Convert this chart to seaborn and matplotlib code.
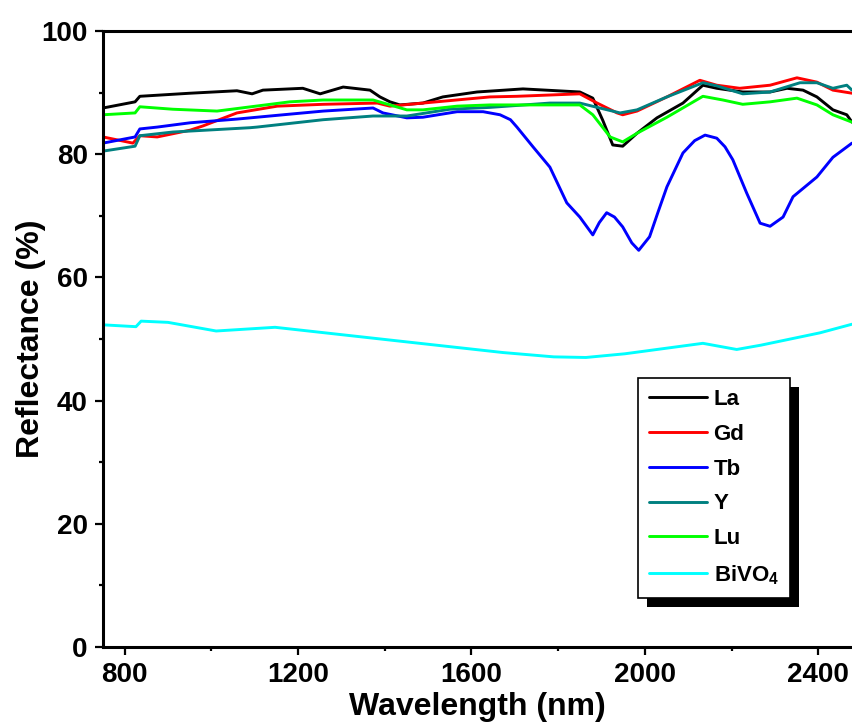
import matplotlib
matplotlib.use("Agg")
import matplotlib.pyplot as plt
from matplotlib.ticker import MultipleLocator
from matplotlib.patches import Rectangle
import pandas as pd
import seaborn as sns

# ------------------------------
# Data (nm, reflectance %)
# ------------------------------
la_nm = [750, 824, 835, 951, 1059, 1094, 1119, 1211, 1251, 1304, 1366, 1389, 1412, 1435, 1488,
         1534, 1613, 1719, 1850, 1880, 1903, 1926, 1949, 1982, 2028, 2088, 2134, 2166, 2226,
         2289, 2328, 2365, 2397, 2434, 2466, 2478]
la_r = [87.5, 88.5, 89.4, 89.9, 90.3, 89.8, 90.4, 90.7, 89.8, 90.9, 90.4, 89.3, 88.5, 88.0, 88.3,
        89.3, 90.1, 90.6, 90.1, 89.1, 85.5, 81.5, 81.3, 83.4, 85.9, 88.3, 91.2, 90.7, 90.1,
        90.1, 90.7, 90.4, 89.3, 87.2, 86.4, 85.2]

gd_nm = [750, 819, 835, 875, 951, 981, 1059, 1152, 1258, 1383, 1412, 1488, 1643, 1705, 1850,
         1890, 1936, 1949, 1982, 2051, 2127, 2166, 2219, 2289, 2351, 2397, 2434, 2478]
gd_r = [82.8, 81.8, 83.0, 82.8, 83.9, 84.6, 86.7, 87.8, 88.1, 88.3, 87.8, 88.3, 89.3, 89.4, 89.8,
        88.3, 86.7, 86.4, 87.0, 89.3, 92.0, 91.2, 90.7, 91.2, 92.4, 91.7, 90.4, 89.9]

tb_nm = [750, 824, 835, 875, 951, 1059, 1181, 1258, 1373, 1396, 1451, 1488, 1567, 1627, 1666,
         1690, 1705, 1742, 1781, 1820, 1850, 1880, 1895, 1912, 1930, 1949, 1970, 1986, 2011,
         2030, 2051, 2088, 2115, 2139, 2166, 2185, 2203, 2235, 2266, 2289, 2319, 2342, 2397,
         2434, 2478]
tb_r = [81.8, 82.8, 84.1, 84.4, 85.1, 85.7, 86.5, 87.0, 87.5, 86.7, 85.9, 86.0, 86.9, 86.9, 86.4,
        85.6, 84.4, 81.2, 77.9, 72.1, 69.8, 66.9, 68.9, 70.5, 69.8, 68.2, 65.6, 64.4, 66.6,
        70.5, 74.7, 80.2, 82.2, 83.1, 82.6, 81.2, 79.1, 73.7, 68.8, 68.3, 69.8, 73.1, 76.3,
        79.5, 81.8]

y_nm = [750, 824, 835, 911, 1089, 1105, 1258, 1373, 1451, 1550, 1643, 1781, 1850, 1896, 1943,
        1982, 2051, 2134, 2166, 2226, 2289, 2358, 2397, 2434, 2466, 2478]
y_r = [80.5, 81.3, 83.0, 83.6, 84.3, 84.4, 85.6, 86.2, 86.2, 87.3, 87.6, 88.3, 88.3, 87.5, 86.7,
       87.2, 89.3, 91.6, 91.1, 89.8, 90.1, 91.6, 91.6, 90.7, 91.2, 90.4]

lu_nm = [750, 824, 835, 911, 1013, 1181, 1258, 1373, 1412, 1451, 1488, 1567, 1643, 1850, 1880,
         1920, 1949, 1982, 2051, 2134, 2180, 2226, 2289, 2351, 2397, 2434, 2478]
lu_r = [86.4, 86.7, 87.7, 87.3, 87.0, 88.5, 88.8, 88.8, 88.0, 87.2, 87.2, 87.8, 88.0, 88.0, 86.4,
        82.8, 82.0, 83.4, 86.0, 89.4, 88.8, 88.1, 88.5, 89.1, 88.0, 86.4, 85.2]

bv_nm = [750, 826, 838, 900, 1011, 1147, 1416, 1673, 1790, 1864, 1954, 2134, 2212, 2268, 2404, 2478]
bv_r = [52.3, 52.0, 52.9, 52.7, 51.3, 51.9, 49.8, 47.8, 47.1, 47.0, 47.6, 49.3, 48.3, 49.0, 51.0, 52.4]

samples = ["La", "Gd", "Tb", "Y", "Lu", "BiVO$_4$"]
colors = ["#000000", "#ff0000", "#0000ff", "#008080", "#00ff00", "#00ffff"]

frames = []
for name, nm, r in zip(samples, [la_nm, gd_nm, tb_nm, y_nm, lu_nm, bv_nm],
                       [la_r, gd_r, tb_r, y_r, lu_r, bv_r]):
    frames.append(pd.DataFrame({"nm": nm, "R": r, "sample": name}))
df = pd.concat(frames, ignore_index=True)

# ------------------------------
# Style
# ------------------------------
sns.set_theme(style="ticks")
plt.rcParams["font.family"] = ["Liberation Sans", "DejaVu Sans"]
plt.rcParams["font.weight"] = "bold"
plt.rcParams["text.color"] = "black"
plt.rcParams["axes.labelcolor"] = "black"
plt.rcParams["xtick.color"] = "black"
plt.rcParams["ytick.color"] = "black"
plt.rcParams["mathtext.fontset"] = "custom"
plt.rcParams["mathtext.rm"] = "Liberation Sans:bold"
plt.rcParams["mathtext.it"] = "Liberation Sans:bold"
plt.rcParams["mathtext.bf"] = "Liberation Sans:bold"

fig = plt.figure(figsize=(8.52, 7.26), dpi=100)
ax = fig.add_axes([103 / 852, 79 / 726, 749 / 852, 616 / 726])

sns.lineplot(data=df, x="nm", y="R", hue="sample", hue_order=samples,
             palette=dict(zip(samples, colors)), estimator=None, sort=False,
             linewidth=2.1, ax=ax, legend=False)

ax.set_xlim(750, 2478)
ax.set_ylim(0, 100)
ax.xaxis.set_major_locator(MultipleLocator(400))
ax.xaxis.set_minor_locator(MultipleLocator(200))
ax.yaxis.set_major_locator(MultipleLocator(20))
ax.yaxis.set_minor_locator(MultipleLocator(10))

ax.spines["right"].set_visible(False)
for side in ["left", "bottom", "top"]:
    ax.spines[side].set_linewidth(2.2)
    ax.spines[side].set_color("black")

ax.tick_params(which="major", direction="out", length=6, width=1.6, labelsize=20,
               pad=5, colors="black", top=False, right=False)
ax.tick_params(which="minor", direction="out", length=3, width=1.6, top=False, right=False)

ax.set_xlabel("Wavelength (nm)", fontsize=23, fontweight="bold", labelpad=3)
ax.set_ylabel("Reflectance (%)", fontsize=23, fontweight="bold", labelpad=-3)

# --- legend with a solid black drop shadow ---
leg = ax.legend(ax.lines[:6], samples, loc="upper left",
                bbox_to_anchor=(638 / 852, 1 - 378 / 726), bbox_transform=fig.transFigure,
                frameon=True, fancybox=False, edgecolor="black", framealpha=1,
                prop={"weight": "bold", "size": 16}, handlelength=2.6, handletextpad=0.3,
                labelspacing=0.62, borderpad=0.5, borderaxespad=0)
leg.get_frame().set_linewidth(1.2)

fig.canvas.draw()
bb = leg.get_window_extent()
shadow = Rectangle((bb.x0 + 9, bb.y0 - 9), bb.width, bb.height, transform=None,
                   facecolor="black", edgecolor="none", zorder=leg.get_zorder() - 0.1,
                   clip_on=False)
ax.add_artist(shadow)

fig.savefig("out.png", dpi=100)
